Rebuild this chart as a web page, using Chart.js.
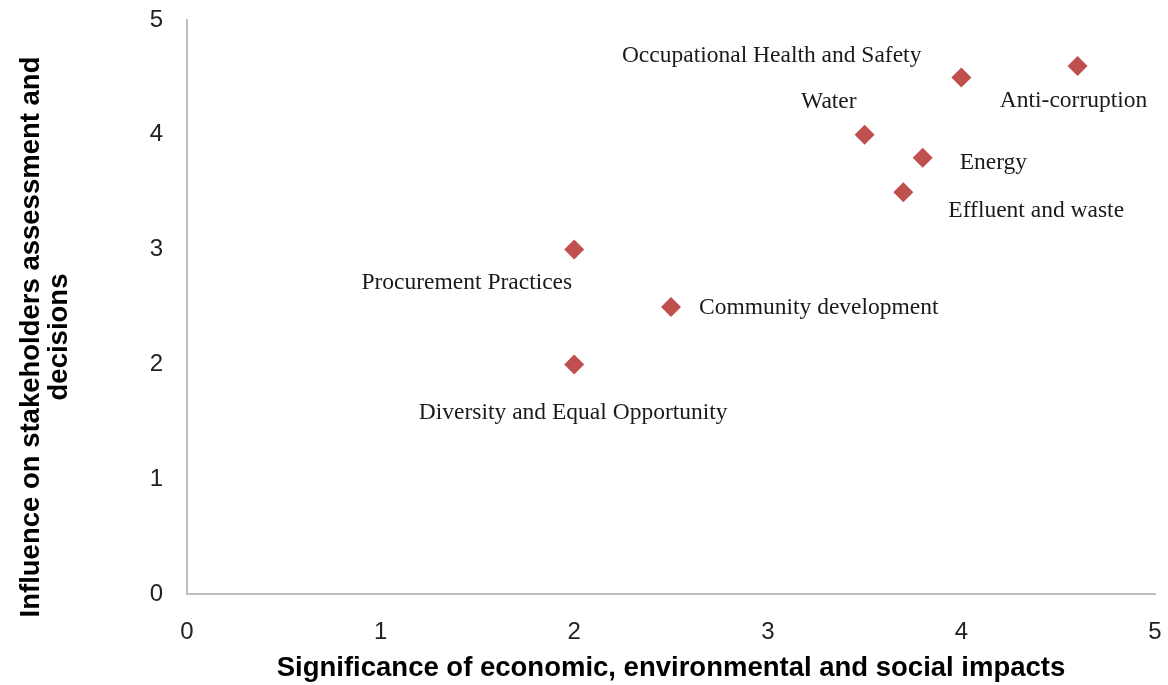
<!DOCTYPE html>
<html>
<head>
<meta charset="utf-8">
<script src="https://cdn.jsdelivr.net/npm/chart.js@4"></script>
<style>
  html, body { margin: 0; padding: 0; background: #fff; }
  #wrap { width: 1168px; height: 685px; }
</style>
</head>
<body>
<div id="wrap"><canvas id="chart" width="1168" height="685"></canvas></div>
<script>
// materiality topics
const topics = ['Occupational Health and Safety', 'Anti-corruption', 'Water', 'Energy',
    'Effluent and waste', 'Procurement Practices', 'Community development', 'Diversity and Equal Opportunity'];
const significance = [4, 4.6, 3.5, 3.8, 3.7, 2, 2.5, 2];
const influence = [4.5, 4.6, 4.0, 3.8, 3.5, 3, 2.5, 2];
const axisTicks = [0, 1, 2, 3, 4, 5];

// where each label sits relative to its marker
const labelAlign = ['right', 'center', 'right', 'left', 'left', 'right', 'left', 'center'];
const labelDx = [-40, -4, -8, 37, 45, -2, 28, -1];
const labelDy = [-22, 35, -33, 5, 19, 33, 1, 48];

const ctx = document.getElementById('chart').getContext('2d');

const pointLabels = {
    id: 'pointLabels',
    afterDatasetsDraw(chart) {
        const c = chart.ctx;
        const meta = chart.getDatasetMeta(0);
        c.save();
        c.font = '23.5px "Liberation Serif", "Times New Roman", serif';
        c.fillStyle = '#1a1a1a';
        c.textBaseline = 'middle';
        meta.data.forEach(function(pt, i) {
            c.textAlign = labelAlign[i];
            c.fillText(topics[i], pt.x + labelDx[i], pt.y + labelDy[i]);
        });
        c.restore();
    }
};

const yTitle = {
    id: 'yTitle',
    afterDraw(chart) {
        const c = chart.ctx;
        c.save();
        c.font = 'bold 27.5px "Liberation Sans", Arial, sans-serif';
        c.fillStyle = '#000';
        c.textAlign = 'center';
        c.textBaseline = 'middle';
        c.translate(31, 337);
        c.rotate(-Math.PI / 2);
        c.fillText('Influence on stakeholders assessment and', 0, 0);
        c.fillText('decisions', 0, 28);
        c.restore();
    }
};

new Chart(ctx, {
    type: 'scatter',
    data: {
        datasets: [{
            data: significance.map(function(v, i) { return { x: v, y: influence[i] }; }),
            pointStyle: 'rectRot',
            pointRadius: 10,
            pointHoverRadius: 10,
            borderWidth: 0,
            backgroundColor: '#c0504d',
            borderColor: '#c0504d'
        }]
    },
    options: {
        responsive: false,
        animation: false,
        layout: { padding: { left: 0, right: 13, top: 20, bottom: 0 } },
        plugins: {
            legend: { display: false },
            tooltip: { enabled: false }
        },
        scales: {
            x: {
                type: 'linear',
                min: 0,
                max: 5,
                afterBuildTicks: function(scale) { scale.ticks = axisTicks.map(function(v) { return { value: v }; }); },
                afterFit: function(scale) {
                    scale.height = 91;
                    scale.paddingLeft = 0;
                    scale.paddingRight = 0;
                },
                grid: { drawOnChartArea: false, drawTicks: false },
                border: { color: '#bfbfbf', width: 2 },
                ticks: {
                    padding: 24,
                    color: '#222',
                    font: { family: '"Liberation Sans", Arial, sans-serif', size: 24 }
                },
                title: {
                    display: true,
                    text: 'Significance of economic, environmental and social impacts',
                    color: '#000',
                    padding: { top: 0, bottom: 0 },
                    font: { family: '"Liberation Sans", Arial, sans-serif', size: 27.5, weight: 'bold', lineHeight: 1.2 }
                }
            },
            y: {
                type: 'linear',
                min: 0,
                max: 5,
                afterBuildTicks: function(scale) { scale.ticks = axisTicks.map(function(v) { return { value: v }; }); },
                afterFit: function(scale) {
                    scale.width = 187;
                    scale.paddingTop = 0;
                    scale.paddingBottom = 0;
                },
                grid: { drawOnChartArea: false, drawTicks: false },
                border: { color: '#bfbfbf', width: 2 },
                ticks: {
                    padding: 24,
                    color: '#222',
                    font: { family: '"Liberation Sans", Arial, sans-serif', size: 24 }
                }
            }
        }
    },
    plugins: [pointLabels, yTitle]
});
</script>
</body>
</html>
